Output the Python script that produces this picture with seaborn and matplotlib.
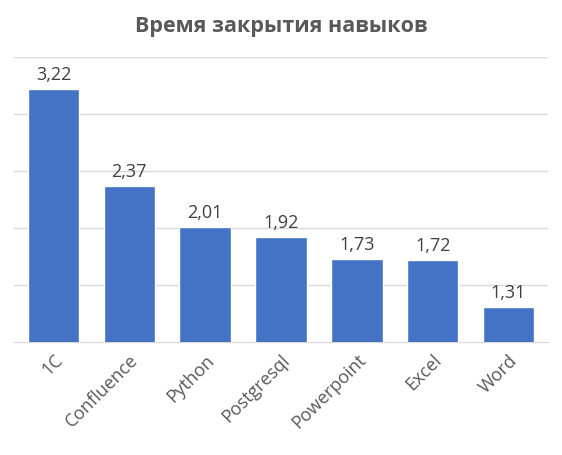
import matplotlib
matplotlib.use("Agg")
import matplotlib.pyplot as plt
import seaborn as sns
import pandas as pd

skills = ["1C", "Confluence", "Python", "Postgresql", "Powerpoint", "Excel", "Word"]
values = [3.22, 2.37, 2.01, 1.92, 1.73, 1.72, 1.31]
labels = ["3,22", "2,37", "2,01", "1,92", "1,73", "1,72", "1,31"]

sns.set_style("white")
plt.rcParams['font.family'] = ['Open Sans', 'DejaVu Sans']

df = pd.DataFrame({"skill": skills, "value": values})
fig, ax = plt.subplots(figsize=(5.62, 4.56), dpi=100)
fig.subplots_adjust(left=0.025, right=0.975, top=0.873, bottom=0.248)
sns.barplot(data=df, x="skill", y="value", color="#4472C4", width=0.68, ax=ax, zorder=3, saturation=1)
ax.set_xlim(-0.52, 6.52)
ax.set_ylim(1.0, 3.5)
ax.set_yticks([1.5, 2.0, 2.5, 3.0, 3.5])
ax.yaxis.grid(True, color="#D9D9D9", linewidth=1, zorder=0)
ax.set_yticklabels([])
ax.tick_params(axis="y", length=0)
ax.tick_params(axis="x", length=0, labelsize=13, labelcolor="#595959", pad=6)
for t in ax.get_xticklabels():
    t.set_rotation(45); t.set_ha("right"); t.set_rotation_mode("anchor")
for s in ["top", "right", "left"]:
    ax.spines[s].set_visible(False)
ax.spines["bottom"].set_color("#D9D9D9")
ax.set_xlabel(""); ax.set_ylabel("")
for i, (v, l) in enumerate(zip(values, labels)):
    ax.text(i, v + 0.05, l, ha="center", va="bottom", fontsize=13, color="#404040")
fig.suptitle("Время закрытия навыков", fontsize=15.5, fontweight="bold", color="#595959", y=0.965)
fig.savefig("out.png", dpi=100)
